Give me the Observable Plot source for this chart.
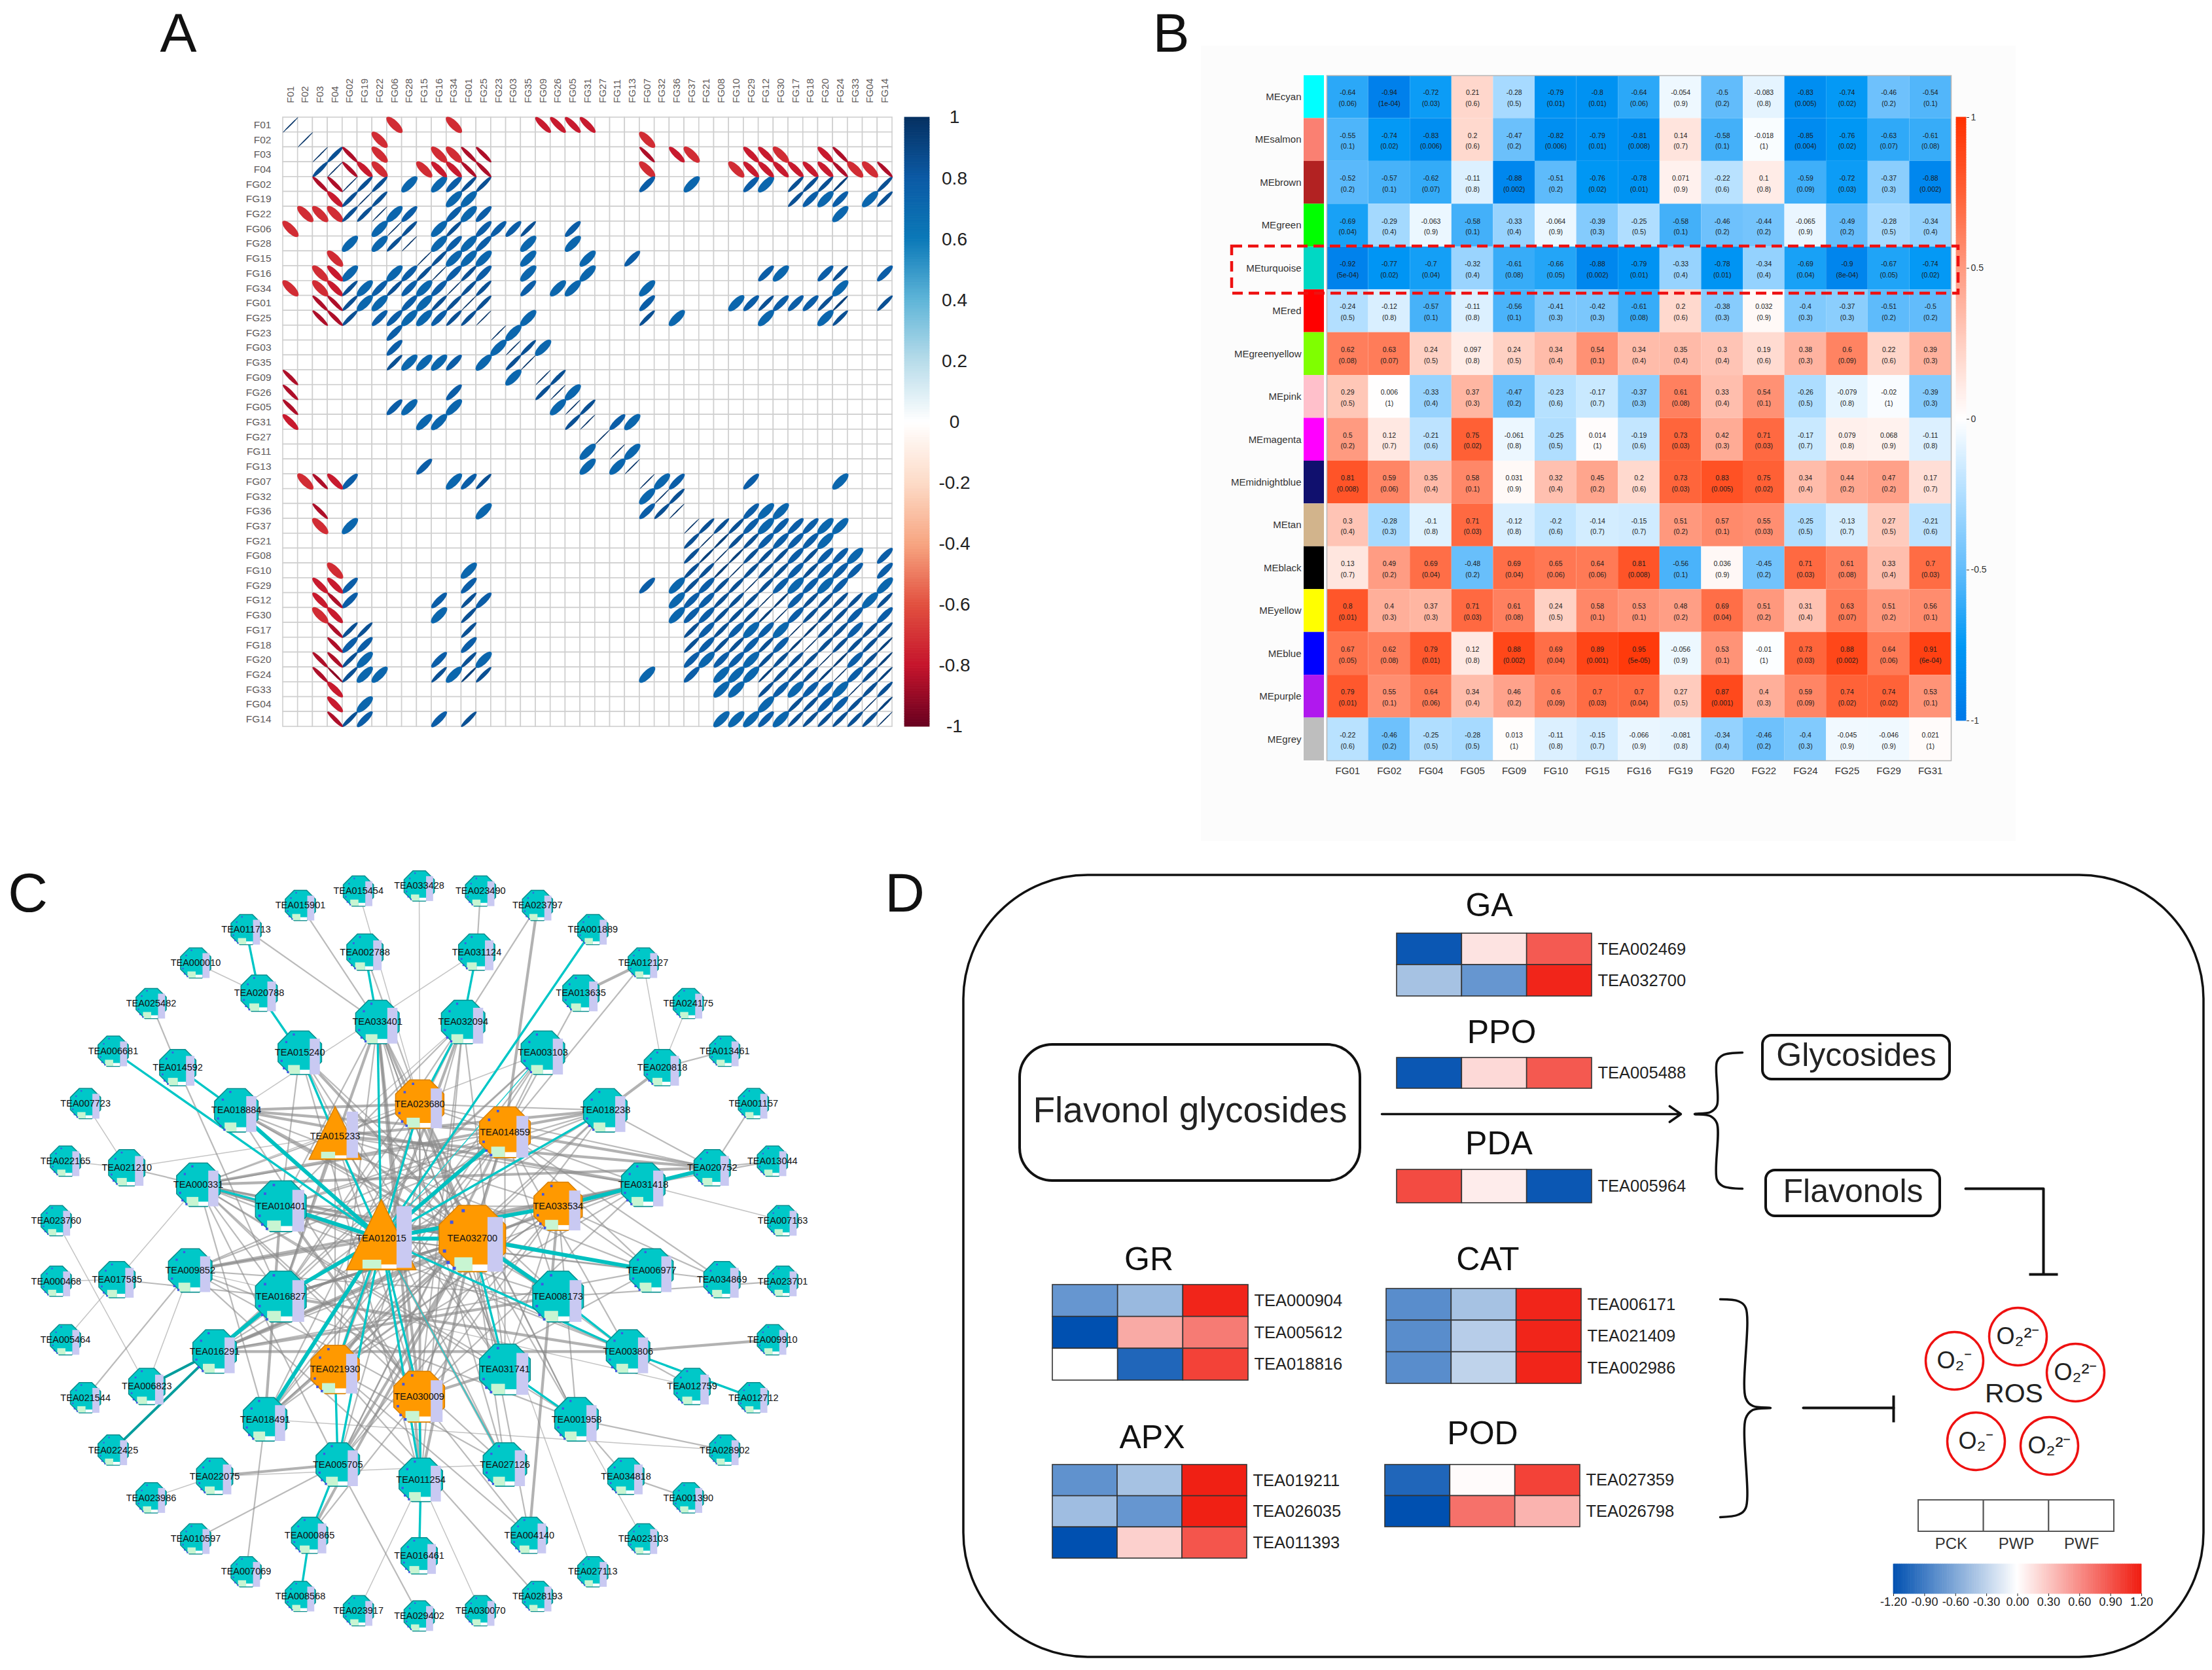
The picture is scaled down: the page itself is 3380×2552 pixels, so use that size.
<!DOCTYPE html>
<html><head><meta charset="utf-8">
<script src="https://cdn.jsdelivr.net/npm/d3@7"></script>
<script src="https://cdn.jsdelivr.net/npm/@observablehq/plot@0.6"></script>
<style>html,body{margin:0;background:#fff}#root{position:relative;width:3380px;height:2552px;overflow:hidden}svg{max-width:none!important}</style>
</head><body><div id="root"></div>
<script>
// ---------- Panel A data: tokens are "column index + strength letter"; capitals are negative
const fgNames = ["F01","F02","F03","F04","FG02","FG19","FG22","FG06","FG28","FG15","FG16","FG34","FG01","FG25","FG23","FG03","FG35","FG09","FG26","FG05","FG31","FG27","FG11","FG13","FG07","FG32","FG36","FG37","FG21","FG08","FG10","FG29","FG12","FG30","FG17","FG18","FG20","FG24","FG33","FG04","FG14"];
const corrRows = [
"0e 7A 11A 17B 18B 19B 20B",
"1e 6A 24A",
"2e 3c 4C 6A 10A 11A 12C 13C 24C 26B 27A 31B 32B 33A 36B 37C",
"2c 3e 4C 5B 6A 9A 10B 11B 12C 13C 24A 30A 31B 32B 33B 34B 35B 36B 37C 38A 39A 40C",
"2C 3C 4e 5c 6c 8a 10a 11b 12c 13c 24b 27a 31b 32a 34c 35c 36c 37d 40c",
"3B 4c 5e 6c 11a 12a 34c 35b 36a 37b 39a 40c",
"1A 2A 3A 4c 5c 6e 7a 8b 11b 12a 13b 37a",
"0A 6a 7e 8c 10a 11c 13b 14b 15b 16c 19b",
"4a 6a 7c 8e 10a 11b 12a 13b 16a 19a",
"3A 9e 10c 11a 12a 13a 16a 20a 23b",
"2A 3B 4a 7a 8b 9c 10e 11b 12c 13b 16a 20a 32b 33a 36b 37c 40b",
"0A 2A 3B 4c 5a 6b 7c 8b 9a 10b 11e 12c 13c 16b 18a 19a 24a 37a",
"2C 3C 4c 5a 6a 8b 9a 10c 11c 12e 13c 24b 30a 31b 32c 33b 34b 35b 36c 37d 40c",
"2C 3C 4c 6b 7b 8a 9a 10b 11c 12c 13e 16a 24c 26a 32a 36a 37c",
"7b 14e 15a",
"7b 14a 15e 16c 17a",
"7c 8a 9a 10a 11b 13a 15c 16e",
"0C 15a 17e 18c",
"0C 11b 17c 18e 19a",
"0C 7b 8a 11a 18a 19e 20c",
"0B 9a 10a 19c 20e 22b 23a",
"21e",
"20a 22e 23a",
"9b 20a 22a 23e",
"1A 2C 3B 4b 11a 12b 13c 24e 25a 26b 31b 37a",
"24a 25e 26c",
"2C 13a 24b 25c 26e 31b 32a 33a",
"2A 4a 27e 28c 29c 30c 31b 32a 33b 34b 35b 36a 37a",
"27c 28e 29d 30c 31c 32b 33b 34b 35b 36a",
"27c 28d 29e 30d 31c 32c 33c 34b 35c 36b 37b 38a 40b",
"3A 12a 27c 28c 29d 30e 31c 32c 33c 34b 35c 36b 37b 38b 40b",
"2B 3B 4b 12b 24b 26a 27c 28b 29c 30c 31e 32c 33b 34a 35b 36a 37b 40a",
"2B 3C 4b 10b 12c 13b 26a 27b 28b 29c 30c 31c 32e 33d 34b 35c 36c 37c 38c 39a 40c",
"2A 3B 10a 12c 26a 27b 28b 29c 30c 31c 32d 33e 34b 35c 36c 37c 38b 40b",
"3C 4c 5c 12c 27c 28b 29c 30b 31a 32b 33a 34e 35d 36c 37c 38b 39c 40c",
"3C 4b 5b 12b 27c 28b 29c 30c 31b 32c 33b 34d 35e 36c 37c 38c 39c 40d",
"2C 3C 4c 5a 10b 12c 13a 27b 28a 29b 30b 31a 32c 33c 34c 35c 36e 37d 38b 39c 40d",
"2C 3D 4c 5a 6a 10c 11a 12d 13c 24a 27b 29a 30a 31a 32d 33c 34c 35c 36d 37e 38b 39c 40d",
"3B 29a 30a 32c 33b 34a 35b 36b 37a 38e 39c 40c",
"3B 5a 32a 34c 35c 36b 37b 38c 39e 40d",
"3C 4c 5b 10b 12c 29a 30a 31a 32b 33a 34c 35c 36c 37c 38c 39c 40e"
];
const corrLevels = {a:0.72,b:0.78,c:0.85,d:0.92,e:0.98};
const corrWidths = {a:6.2,b:4.8,c:3.2,d:1.9,e:0.9};
const corrStops = ["#67001f","#c5142c","#e2503f","#f7a581","#fddbc7","#ffffff","#b8dcea","#5fb5d8","#0b79b8","#0b5aa5","#053061"];
const corrTicks = [-1,-0.8,-0.6,-0.4,-0.2,0,0.2,0.4,0.6,0.8,1];

// ---------- Panel B data
const modules = ["MEcyan","MEsalmon","MEbrown","MEgreen","MEturquoise","MEred","MEgreenyellow","MEpink","MEmagenta","MEmidnightblue","MEtan","MEblack","MEyellow","MEblue","MEpurple","MEgrey"];
const moduleColors = ["#00ffff","#fa8072","#b22222","#00ff00","#00d8c4","#ff0000","#7fff00","#ffc0cb","#ff00ff","#10106e","#d2b48c","#000000","#ffff00","#0000ff","#b018ee","#bebebe"];
const traits = ["FG01","FG02","FG04","FG05","FG09","FG10","FG15","FG16","FG19","FG20","FG22","FG24","FG25","FG29","FG31"];
const moduleR = [
[-0.64,-0.94,-0.72,0.21,-0.28,-0.79,-0.8,-0.64,-0.054,-0.5,-0.083,-0.83,-0.74,-0.46,-0.54],
[-0.55,-0.74,-0.83,0.2,-0.47,-0.82,-0.79,-0.81,0.14,-0.58,-0.018,-0.85,-0.76,-0.63,-0.61],
[-0.52,-0.57,-0.62,-0.11,-0.88,-0.51,-0.76,-0.78,0.071,-0.22,0.1,-0.59,-0.72,-0.37,-0.88],
[-0.69,-0.29,-0.063,-0.58,-0.33,-0.064,-0.39,-0.25,-0.58,-0.46,-0.44,-0.065,-0.49,-0.28,-0.34],
[-0.92,-0.77,-0.7,-0.32,-0.61,-0.66,-0.88,-0.79,-0.33,-0.78,-0.34,-0.69,-0.9,-0.67,-0.74],
[-0.24,-0.12,-0.57,-0.11,-0.56,-0.41,-0.42,-0.61,0.2,-0.38,0.032,-0.4,-0.37,-0.51,-0.5],
[0.62,0.63,0.24,0.097,0.24,0.34,0.54,0.34,0.35,0.3,0.19,0.38,0.6,0.22,0.39],
[0.29,0.006,-0.33,0.37,-0.47,-0.23,-0.17,-0.37,0.61,0.33,0.54,-0.26,-0.079,-0.02,-0.39],
[0.5,0.12,-0.21,0.75,-0.061,-0.25,0.014,-0.19,0.73,0.42,0.71,-0.17,0.079,0.068,-0.11],
[0.81,0.59,0.35,0.58,0.031,0.32,0.45,0.2,0.73,0.83,0.75,0.34,0.44,0.47,0.17],
[0.3,-0.28,-0.1,0.71,-0.12,-0.2,-0.14,-0.15,0.51,0.57,0.55,-0.25,-0.13,0.27,-0.21],
[0.13,0.49,0.69,-0.48,0.69,0.65,0.64,0.81,-0.56,0.036,-0.45,0.71,0.61,0.33,0.7],
[0.8,0.4,0.37,0.71,0.61,0.24,0.58,0.53,0.48,0.69,0.51,0.31,0.63,0.51,0.56],
[0.67,0.62,0.79,0.12,0.88,0.69,0.89,0.95,-0.056,0.53,-0.01,0.73,0.88,0.64,0.91],
[0.79,0.55,0.64,0.34,0.46,0.6,0.7,0.7,0.27,0.87,0.4,0.59,0.74,0.74,0.53],
[-0.22,-0.46,-0.25,-0.28,0.013,-0.11,-0.15,-0.066,-0.081,-0.34,-0.46,-0.4,-0.045,-0.046,0.021]
];
const moduleP = [
["0.06","1e-04","0.03","0.6","0.5","0.01","0.01","0.06","0.9","0.2","0.8","0.005","0.02","0.2","0.1"],
["0.1","0.02","0.006","0.6","0.2","0.006","0.01","0.008","0.7","0.1","1","0.004","0.02","0.07","0.08"],
["0.2","0.1","0.07","0.8","0.002","0.2","0.02","0.01","0.9","0.6","0.8","0.09","0.03","0.3","0.002"],
["0.04","0.4","0.9","0.1","0.4","0.9","0.3","0.5","0.1","0.2","0.2","0.9","0.2","0.5","0.4"],
["5e-04","0.02","0.04","0.4","0.08","0.05","0.002","0.01","0.4","0.01","0.4","0.04","8e-04","0.05","0.02"],
["0.5","0.8","0.1","0.8","0.1","0.3","0.3","0.08","0.6","0.3","0.9","0.3","0.3","0.2","0.2"],
["0.08","0.07","0.5","0.8","0.5","0.4","0.1","0.4","0.4","0.4","0.6","0.3","0.09","0.6","0.3"],
["0.5","1","0.4","0.3","0.2","0.6","0.7","0.3","0.08","0.4","0.1","0.5","0.8","1","0.3"],
["0.2","0.7","0.6","0.02","0.8","0.5","1","0.6","0.03","0.3","0.03","0.7","0.8","0.9","0.8"],
["0.008","0.06","0.4","0.1","0.9","0.4","0.2","0.6","0.03","0.005","0.02","0.4","0.2","0.2","0.7"],
["0.4","0.3","0.8","0.03","0.8","0.6","0.7","0.7","0.2","0.1","0.03","0.5","0.7","0.5","0.6"],
["0.7","0.2","0.04","0.2","0.04","0.06","0.06","0.008","0.1","0.9","0.2","0.03","0.08","0.4","0.03"],
["0.01","0.3","0.3","0.03","0.08","0.5","0.1","0.1","0.2","0.04","0.2","0.4","0.07","0.2","0.1"],
["0.05","0.08","0.01","0.8","0.002","0.04","0.001","5e-05","0.9","0.1","1","0.03","0.002","0.06","6e-04"],
["0.01","0.1","0.06","0.4","0.2","0.09","0.03","0.04","0.5","0.001","0.3","0.09","0.02","0.02","0.1"],
["0.6","0.2","0.5","0.5","1","0.8","0.7","0.9","0.8","0.4","0.2","0.3","0.9","0.9","1"]
];
const moduleStops = ["#0078e8","#0098f5","#62bcfb","#b0deff","#ffffff","#ffcfc2","#ff9a80","#ff6035","#ff3000"];
const moduleTicks = [-1,-0.5,0,0.5,1];

// ---------- Panel C data: id, layout x, layout y
const ringOuter = [["015454",660,78],["033428",772,68],["023490",885,78],["023797",990,106],["001889",1092,153],["012127",1185,218],["024175",1268,297],["013461",1335,390],["001157",1388,492],["013044",1423,604],["007163",1442,720],["023701",1442,838],["009910",1423,952],["012712",1388,1065],["028902",1335,1167],["001390",1268,1260],["023103",1185,1340],["027113",1092,1404],["028193",990,1452],["030070",885,1480],["029402",772,1490],["023917",660,1480],["008568",553,1452],["007069",453,1404],["010597",360,1340],["023986",278,1260],["022425",208,1167],["021544",157,1065],["005464",120,952],["000468",103,838],["023760",103,720],["022165",120,604],["007723",157,492],["006681",208,390],["025482",278,297],["000010",360,218],["011713",453,153],["015901",553,106]];
const ringMiddle = [["002788",672,197],["031124",878,197],["013635",1070,277],["020818",1220,422],["020752",1312,617],["034869",1330,835],["012759",1275,1043],["034818",1153,1218],["004140",975,1333],["016461",772,1373],["000865",570,1333],["022075",395,1218],["006823",270,1043],["017585",215,835],["021210",233,617],["014592",327,422],["020788",477,277]];
const ringInner = [["033401",695,333],["032094",853,333],["003103",1000,393],["018238",1115,505],["031418",1185,650],["006977",1200,817],["003806",1157,975],["001958",1062,1107],["027126",930,1195],["011254",775,1225],["005705",622,1195],["018491",488,1107],["016291",395,975],["009852",350,817],["000331",365,650],["018884",435,505],["015240",552,393]];
const ringCore = [["010401",517,692],["016827",517,868],["008173",1028,868],["031741",930,1010]];
const hubOctagons = [["023680",773,493,40],["014859",930,548,42],["033534",1028,692,40],["032700",870,755,55],["030009",772,1063,42],["021930",617,1010,40]];
const hubTriangles = [["015233",617,555,39],["012015",702,755,52]];
const edgesCyanThick = "012015-018884 012015-032700 012015-010401 012015-033534 031418-033534 031418-020752 016291-016827 012015-014859 032700-008173 032700-006977 012015-018491 012015-016827";
const edgesCyan = "011713-020788 020788-015240 015240-015233 002788-033401 033401-012015 031124-032094 032094-023680 001889-012015 006681-012015 014592-018884 015233-012015 023680-012015 018238-012015 000331-010401 005705-021930 000865-005705 008568-000865 021930-012015 030009-012015 011254-030009 016461-011254 008173-003806 012015-003806 003806-012712 032700-031741 031741-001958 012015-011254 005705-012015";
const edgesTeal = "006823-016291 022425-016291";
const edgesCyanThin = "012015-027126 003103-012015";
const edgesHeavy = "032700-033401 032700-015240 032700-018884 032700-000331 032700-010401 032700-016827 032700-016291 032700-018491 032700-005705 032700-011254 032700-023680 032700-014859 010401-018491 023797-014859 013635-012127 020818-018238 009910-003806 014859-018884 023680-018884 015233-018238 015233-020752 014859-020752 033534-016291 021930-032094 030009-033401 030009-010401 012015-031418 012015-009852 012015-000331 016827-033401 018238-000331 031418-009852 022075-005705 018884-031418 000331-020752 016827-032700 016827-003806 008173-016291 030009-031741 027126-012015 003806-016291 011254-033401 000865-032700 004140-033534";
const edgesMid = "023490-031124 023797-032094 012127-014859 013461-020818 001157-020752 013044-031418 013044-020752 023701-008173 028902-001958 001390-034818 028193-021930 029402-005705 007069-018491 010597-005705 021544-009852 025482-014592 011713-033401 015901-033401 002788-023680 013635-014859 020752-018238 034869-033534 034869-014859 012759-003806 034818-001958 004140-030009 004140-032700 017585-016827 021210-000331 032700-027126 032700-001958 032700-003806 032700-031418 032700-021930 032700-030009 032700-015233 012015-006977 012015-034869 014859-000331 014859-010401 014859-009852 014859-016291 014859-018491 014859-030009 014859-021930 014859-005705 014859-031741 014859-006977 014859-003806 014859-008173 023680-000331 023680-015233 023680-018238 023680-031418 023680-020752 023680-016827 023680-021930 023680-030009 023680-031741 023680-001958 023680-011254 015233-031418 015233-033534 015233-008173 015233-031741 015233-030009 015233-021930 015233-016827 033534-010401 033534-018491 033534-005705 033534-021930 033534-030009 033534-031741 033534-001958 033534-006977 021930-000331 021930-033401 021930-003103 021930-018238 021930-031418 021930-027126 021930-004140 030009-032094 030009-000331 030009-018884 030009-009852 030009-031418 030009-006977 030009-000865 010401-033401 010401-032094 010401-015240 010401-018238 016827-014592 016827-032094 031741-033401 031741-032094 031741-015240 031741-000331 008173-015240 008173-000331 008173-009852 006977-016291 006977-000331 003103-018491 003103-016291 018238-016291 033401-031741 033401-001958 033401-027126 032094-005705 032094-011254 032094-018491 015240-027126 015240-011254 018884-008173 018884-006977 003103-016827 003103-005705 018238-018491 018238-005705 031418-016827 031418-016291 006977-010401 003806-010401 003806-000331 001958-009852 001958-000331 027126-000331 011254-009852 005705-000331 018491-000331 009852-018238";
const edgesLight = "015454-023680 033428-023680 005464-017585 000468-017585 023760-006823 022165-021210 007723-021210 000010-020788 024175-020818 007163-031418 023103-001958 027113-032700 030070-011254 023917-011254 023986-022075 031124-018884 012127-020818 032094-015233 003103-000331 021210-015233 017585-000331 009852-006823 022075-027126 028902-018491 012759-009852";

// ---------- Panel D data
const samples = ["PCK","PWP","PWF"];
const gaGenes = ["TEA002469","TEA032700"], gaValues = [[-1.15,0.15,0.87],[-0.42,-0.72,1.15]];
const ppoGenes = ["TEA005488"], ppoValues = [[-1.15,0.2,0.88]];
const pdaGenes = ["TEA005964"], pdaValues = [[0.95,0.1,-1.15]];
const grGenes = ["TEA000904","TEA005612","TEA018816"], grValues = [[-0.72,-0.48,1.15],[-1.2,0.45,0.7],[0,-1.05,1.0]];
const catGenes = ["TEA006171","TEA021409","TEA002986"], catValues = [[-0.78,-0.42,1.15],[-0.78,-0.34,1.15],[-0.78,-0.3,1.15]];
const apxGenes = ["TEA019211","TEA026035","TEA011393"], apxValues = [[-0.75,-0.42,1.18],[-0.45,-0.72,1.18],[-1.2,0.25,0.9]];
const podGenes = ["TEA027359","TEA026798"], podValues = [[-1.05,0.02,1.0],[-1.2,0.75,0.4]];
const exprStops = ["#0050b0","#ffffff","#f01c10"];
const exprTicks = [-1.2,-0.9,-0.6,-0.3,0,0.3,0.6,0.9,1.2];

// ---------- Layout annotations in page pixels
const panelLetters = [{t:"A",x:272,y:52},{t:"B",x:1789,y:52},{t:"C",x:42,y:1366},{t:"D",x:1382,y:1366}];
const dTitles = [{t:"GA",x:2275,y:1383},{t:"PPO",x:2294,y:1577},{t:"PDA",x:2290,y:1747},{t:"GR",x:1755,y:1924},{t:"CAT",x:2273,y:1924},{t:"APX",x:1760,y:2196},{t:"POD",x:2265,y:2190}];
const dBoxes = [{t:"Flavonol glycosides",x1:1558,x2:2078,y1:1596,y2:1804,r:50,s:55},{t:"Glycosides",x1:2693,x2:2979,y1:1582,y2:1649,r:14,s:50},{t:"Flavonols",x1:2698,x2:2964,y1:1788,y2:1858,r:14,s:50}];
const rosRings = [{t:"O₂⁻",x:2986,y:2079},{t:"O₂²⁻",x:3083,y:2042},{t:"O₂²⁻",x:3171,y:2097},{t:"O₂⁻",x:3019,y:2202},{t:"O₂²⁻",x:3131,y:2209}];
const braceTop = [[2662,1608],[2632,1612],[2623,1622],[2623,1689],[2613,1699],[2589,1702],[2613,1705],[2623,1716],[2623,1802],[2632,1812],[2662,1816]];
const braceBottom = [[2628,1985],[2656,1988],[2667,1998],[2667,2136],[2678,2148],[2705,2151],[2678,2154],[2667,2167],[2667,2304],[2656,2314],[2628,2318]];
const inhibitFlavonols = [[3003,1816],[3122,1816],[3122,1946]];
const inhibitEnzymes = [[2755,2151],[2893,2151]];
const inhibitBars = [{x1:3100,x2:3144,y1:1947,y2:1947},{x1:2893,x2:2893,y1:2132,y2:2173}];

// ---------- Helpers
const root = document.getElementById("root");
const FONT = "Liberation Sans, Arial, sans-serif";
const baseStyle = {background:"none",overflow:"visible",fontFamily:FONT};
function place(el,left,top){el.style.position="absolute";el.style.left=left+"px";el.style.top=top+"px";root.append(el);}
const ramp = stops => d3.piecewise(d3.interpolateRgb, stops);
function barCells(lo,hi){const n=240;return d3.range(n).map(i=>({a:lo+(hi-lo)*i/n,b:lo+(hi-lo)*(i+1)/n}));}
const polySymbol = polys => ({draw(c,size){const r=Math.sqrt(size/Math.PI);for(const p of polys){p.forEach(([x,y],i)=>i?c.lineTo(x*r,y*r):c.moveTo(x*r,y*r));c.closePath();}}});
const ellipseSymbol = (minor,sign) => ({draw(c){const a=16.5,k=Math.SQRT1_2;for(let i=0;i<32;i++){const t=i/32*2*Math.PI,u=a*Math.cos(t),v=minor*Math.sin(t);const x=k*(u-v),y=sign>0?-k*(u+v):k*(u+v);i?c.lineTo(x,y):c.moveTo(x,y);}c.closePath();}});

// ---------- Page layer (background annotations)
const bracePts = b => b.map(([x,y])=>({x,y}));
const pagePlot = () => Plot.plot({width:3380,height:2552,margin:0,style:baseStyle,
  x:{type:"linear",domain:[0,3380],range:[0,3380],axis:null},
  y:{type:"linear",domain:[0,2552],range:[0,2552],axis:null},
  marks:[
    Plot.rect([{x1:1835,x2:3080,y1:70,y2:1285}],{x1:"x1",x2:"x2",y1:"y1",y2:"y2",fill:"#fcfcfc"}),
    Plot.text(panelLetters,{x:"x",y:"y",text:"t",fontSize:84,fill:"#111"}),
    Plot.rect([{x1:1472,x2:3367,y1:1337,y2:2532}],{x1:"x1",x2:"x2",y1:"y1",y2:"y2",fill:"none",stroke:"#111",strokeWidth:3.5,r:190}),
    Plot.text(dTitles,{x:"x",y:"y",text:"t",fontSize:50,fill:"#111"}),
    ...dBoxes.map(b=>Plot.rect([b],{x1:"x1",x2:"x2",y1:"y1",y2:"y2",fill:"#fff",stroke:"#111",strokeWidth:4,r:b.r})),
    ...dBoxes.map(b=>Plot.text([b],{x:d=>(d.x1+d.x2)/2,y:d=>(d.y1+d.y2)/2-3,text:"t",fontSize:b.s,fill:"#222"})),
    Plot.arrow([{x1:2111,y1:1702,x2:2568,y2:1702}],{x1:"x1",y1:"y1",x2:"x2",y2:"y2",stroke:"#111",strokeWidth:3.5,headLength:9,headAngle:70}),
    Plot.line(bracePts(braceTop),{x:"x",y:"y",curve:"catmull-rom",stroke:"#111",strokeWidth:3.5}),
    Plot.line(bracePts(braceBottom),{x:"x",y:"y",curve:"catmull-rom",stroke:"#111",strokeWidth:3.5}),
    Plot.line(bracePts(inhibitFlavonols),{x:"x",y:"y",stroke:"#111",strokeWidth:4}),
    Plot.line(bracePts(inhibitEnzymes),{x:"x",y:"y",stroke:"#111",strokeWidth:4}),
    Plot.link(inhibitBars,{x1:"x1",x2:"x2",y1:"y1",y2:"y2",stroke:"#111",strokeWidth:4}),
    Plot.dot(rosRings,{x:"x",y:"y",r:44,stroke:"#ee1111",strokeWidth:3.5,fill:"#fff"}),
    Plot.text(rosRings,{x:"x",y:"y",text:"t",fontSize:36,fill:"#222"}),
    Plot.text([{t:"ROS",x:3077,y:2129}],{x:"x",y:"y",text:"t",fontSize:41,fill:"#222"})
  ]});
place(pagePlot(),0,0);

// ---------- Panel A
const corrCells = corrRows.flatMap((row,r)=>row.split(" ").map(tok=>{
  const col=+tok.slice(0,-1),ch=tok.slice(-1),low=ch.toLowerCase(),sign=ch===low?1:-1;
  return {x:fgNames[col],y:fgNames[r],v:sign*corrLevels[low],level:low,sign};
}));
const grid = fgNames.flatMap(y=>fgNames.map(x=>({x,y})));
const corrRamp = ramp(corrStops);
const levelMarks = Object.keys(corrLevels).flatMap(l=>[1,-1].map(s=>
  Plot.dot(corrCells.filter(d=>d.level===l&&d.sign===s),{x:"x",y:"y",fill:"v",r:1,symbol:ellipseSymbol(corrWidths[l],s)})));
place(Plot.plot({width:931+60+4,height:931+70+4,marginLeft:60,marginTop:70,marginRight:4,marginBottom:4,style:baseStyle,
  x:{domain:fgNames,padding:0,round:false},y:{domain:fgNames,padding:0,round:false},
  color:{type:"linear",domain:[-1,1],interpolate:corrRamp},
  marks:[
    Plot.cell(grid,{x:"x",y:"y",fill:"#fff",stroke:"#cfcfcf",strokeWidth:1.6}),
    ...levelMarks,
    Plot.axisX({anchor:"top",tickRotate:-90,tickSize:0,tickPadding:22,fontSize:15,color:"#5f5a5a",label:null}),
    Plot.axisY({anchor:"left",tickSize:0,tickPadding:18,fontSize:15.5,color:"#5f5a5a",label:null})
  ]}),371.7,109.3);
const barMid = d=>(d.a+d.b)/2;
place(Plot.plot({width:100,height:931,margin:0,marginRight:62,style:baseStyle,
  x:{type:"linear",domain:[0,1],axis:null},
  y:{type:"linear",domain:[-1,1]},
  color:{type:"linear",domain:[-1,1],interpolate:corrRamp},
  marks:[
    Plot.rect(barCells(-1,1),{x1:0,x2:1,y1:"a",y2:"b",fill:barMid,stroke:barMid,strokeWidth:0.8}),
    Plot.axisY({anchor:"right",ticks:corrTicks,tickFormat:d=>String(d),tickSize:0,tickPadding:38,fontSize:28,textAnchor:"middle",color:"#222",label:null})
  ]}),1382,179);

// ---------- Panel B
const moduleCells = modules.flatMap((m,i)=>traits.map((t,j)=>({m,t,r:moduleR[i][j],label:`${moduleR[i][j]}\n(${moduleP[i][j]})`})));
const moduleRamp = ramp(moduleStops);
place(Plot.plot({width:954,height:1047,margin:0,style:baseStyle,
  x:{domain:traits,padding:0,round:false},y:{domain:modules,padding:0,round:false,axis:null},
  color:{type:"linear",domain:[-1,1],interpolate:moduleRamp},
  marks:[
    Plot.cell(moduleCells,{x:"t",y:"m",fill:"r"}),
    Plot.text(moduleCells,{x:"t",y:"m",text:"label",fontSize:10.5,lineHeight:1.6,fill:"#1a1a1a"}),
    Plot.frame({stroke:"#b5b5b5",strokeWidth:1.5}),
    Plot.axisX({anchor:"bottom",tickSize:0,tickPadding:10,fontSize:15,color:"#333",label:null})
  ]}),2027,115);
place(Plot.plot({width:31+140,height:1047,marginLeft:140,marginRight:0,marginTop:0,marginBottom:0,style:baseStyle,
  x:{domain:["strip"],padding:0,axis:null,round:false},y:{domain:modules,padding:0,round:false},
  color:{type:"ordinal",domain:modules,range:moduleColors},
  marks:[
    Plot.cell(modules,{x:()=>"strip",y:d=>d,fill:d=>d}),
    Plot.axisY({anchor:"left",tickSize:0,tickPadding:4,fontSize:15,color:"#333",label:null})
  ]}),1992-140,115);
place(Plot.plot({width:90,height:922,margin:0,marginRight:75,style:baseStyle,
  x:{type:"linear",domain:[0,1],axis:null},
  y:{type:"linear",domain:[-1,1]},
  color:{type:"linear",domain:[-1,1],interpolate:moduleRamp},
  marks:[
    Plot.rect(barCells(-1,1),{x1:0,x2:1,y1:"a",y2:"b",fill:barMid,stroke:barMid,strokeWidth:0.8}),
    Plot.axisY({anchor:"right",ticks:moduleTicks,tickFormat:d=>String(d),tickSize:4,tickPadding:3,fontSize:14,color:"#333",label:null})
  ]}),2989,179);
place(Plot.plot({width:3380,height:2552,margin:0,style:baseStyle,
  x:{type:"linear",domain:[0,3380],range:[0,3380],axis:null},
  y:{type:"linear",domain:[0,2552],range:[0,2552],axis:null},
  marks:[Plot.rect([{x1:1882,x2:2992,y1:376,y2:448}],{x1:"x1",x2:"x2",y1:"y1",y2:"y2",fill:"none",stroke:"#ee1111",strokeWidth:4.5,strokeDasharray:"16,9"})]
}),0,0);

// ---------- Panel C
const octagon = d3.range(8).map(i=>{const t=(22.5+45*i)*Math.PI/180;return [Math.cos(t),Math.sin(t)];});
const triangle = [[0,-1.15],[1.02,0.92],[-1.02,0.92]];
const rectPts = (x1,y1,x2,y2)=>[[x1,y1],[x2,y1],[x2,y2],[x1,y2]];
const specks = [[-0.82,0.3],[-0.72,0.62],[-0.55,0.78],[-0.3,-0.82],[-0.62,-0.5]].map(([x,y])=>rectPts(x,y,x+0.09,y+0.09));
const nodes = [
  ...ringOuter.map(([id,x,y])=>({id,x,y,r:25,kind:"module"})),
  ...ringMiddle.map(([id,x,y])=>({id,x,y,r:30,kind:"module"})),
  ...ringInner.map(([id,x,y])=>({id,x,y,r:36,kind:"module"})),
  ...ringCore.map(([id,x,y])=>({id,x,y,r:42,kind:"module"})),
  ...hubOctagons.map(([id,x,y,r])=>({id,x,y,r,kind:"hub"})),
  ...hubTriangles.map(([id,x,y,r])=>({id,x,y,r,kind:"tri"}))
];
const byId = new Map(nodes.map(n=>[n.id,n]));
const edgeRows = s => s.split(" ").map(e=>e.split("-")).filter(([a,b])=>byId.has(a)&&byId.has(b)).map(([a,b])=>({a:byId.get(a),b:byId.get(b)}));
const edgeMark = (s,stroke,w,op) => Plot.link(edgeRows(s),{x1:d=>d.a.x,y1:d=>d.a.y,x2:d=>d.b.x,y2:d=>d.b.y,stroke,strokeWidth:w,strokeOpacity:op});
const octNodes = nodes.filter(n=>n.kind!=="tri"), triNodes = nodes.filter(n=>n.kind==="tri");
const glyph = (data,poly,fill,extra={}) => Plot.dot(data,{x:"x",y:"y",r:"r",symbol:polySymbol(poly),fill,...extra});
place(Plot.plot({width:1300,height:1230,margin:0,style:baseStyle,
  x:{type:"linear",domain:[0,1568],range:[0,1300],axis:null},
  y:{type:"linear",domain:[0,1568],range:[0,1230],axis:null},
  r:{type:"identity"},
  marks:[
    edgeMark(edgesLight,"#b0b0b0",1.5,0.75),
    edgeMark(edgesMid,"#8c8c8c",2.2,0.6),
    edgeMark(edgesHeavy,"#888888",4.2,0.65),
    edgeMark(edgesCyanThin,"#22cccc",1.5,1),
    edgeMark(edgesCyan,"#00c6c6",3.4,1),
    edgeMark(edgesCyanThick,"#00c0c0",6,1),
    edgeMark(edgesTeal,"#009c9c",4,1),
    glyph(octNodes.filter(n=>n.kind==="module"),[octagon],"#00c8c8",{stroke:"#0a8c8c",strokeWidth:1.5}),
    glyph(octNodes.filter(n=>n.kind==="hub"),[octagon],"#ff9900",{stroke:"#d87f00",strokeWidth:1.5}),
    glyph(triNodes,[triangle],"#ff9900",{stroke:"#d87f00",strokeWidth:1.5}),
    glyph(octNodes,[rectPts(-0.5,0.52,0,0.9)],"#c8f5d2"),
    glyph(octNodes,[rectPts(0,0.72,0.42,0.9)],"#ffffff"),
    glyph(octNodes,[rectPts(0.42,-0.6,0.85,0.92)],"#c9c9f2"),
    glyph(octNodes,specks,"#3f55e6"),
    glyph(triNodes,[rectPts(-0.55,0.62,0,0.88)],"#c8f5d2"),
    glyph(triNodes,[rectPts(0,0.76,0.45,0.88)],"#ffffff"),
    glyph(triNodes,[rectPts(0.45,-0.95,0.9,0.86)],"#c9c9f2"),
    Plot.text(nodes,{x:"x",y:"y",text:d=>"TEA"+d.id,fontSize:14.5,fill:"#111"})
  ]}),0,1300);

// ---------- Panel D heat maps
const exprRamp = ramp(exprStops);
function exprPlot(genes,values,left,top,w,h){
  const cells = genes.flatMap((g,i)=>samples.map((s,j)=>({g,s,v:values[i][j]})));
  place(Plot.plot({width:w+170,height:h,margin:0,marginRight:170,style:baseStyle,
    x:{domain:samples,padding:0,axis:null,round:false},y:{domain:genes,padding:0,round:false},
    color:{type:"linear",domain:[-1.2,1.2],interpolate:exprRamp},
    marks:[
      Plot.cell(cells,{x:"s",y:"g",fill:"v",stroke:"#333",strokeWidth:1.6}),
      Plot.axisY({anchor:"right",tickSize:0,tickPadding:9,fontSize:25.5,color:"#222",label:null})
    ]}),left,top);
}
exprPlot(gaGenes,gaValues,2134,1426,298,96);
exprPlot(ppoGenes,ppoValues,2134,1616,298,47);
exprPlot(pdaGenes,pdaValues,2134,1787,298,51);
exprPlot(grGenes,grValues,1608,1963,299,146);
exprPlot(catGenes,catValues,2118,1969,298,145);
exprPlot(apxGenes,apxValues,1608,2238,297,143);
exprPlot(podGenes,podValues,2116,2238,298,95);
place(Plot.plot({width:299,height:90,margin:0,marginBottom:42,style:baseStyle,
  x:{domain:samples,padding:0,round:false},y:{domain:["key"],padding:0,axis:null,round:false},
  marks:[
    Plot.cell(samples,{x:d=>d,y:()=>"key",fill:"#fff",stroke:"#555",strokeWidth:2}),
    Plot.axisX({anchor:"bottom",tickSize:0,tickPadding:9,fontSize:24,color:"#333",label:null})
  ]}),2931,2292);
place(Plot.plot({width:379,height:80,margin:0,marginBottom:35,style:baseStyle,
  x:{type:"linear",domain:[-1.2,1.2]},y:{type:"linear",domain:[0,1],axis:null},
  color:{type:"linear",domain:[-1.2,1.2],interpolate:exprRamp},
  marks:[
    Plot.rect(barCells(-1.2,1.2),{x1:"a",x2:"b",y1:0,y2:1,fill:barMid,stroke:barMid,strokeWidth:0.8}),
    Plot.axisX({anchor:"bottom",ticks:exprTicks,tickFormat:d=>d.toFixed(2),tickSize:4,tickPadding:2,fontSize:18,color:"#222",label:null})
  ]}),2893,2390);
</script></body></html>
